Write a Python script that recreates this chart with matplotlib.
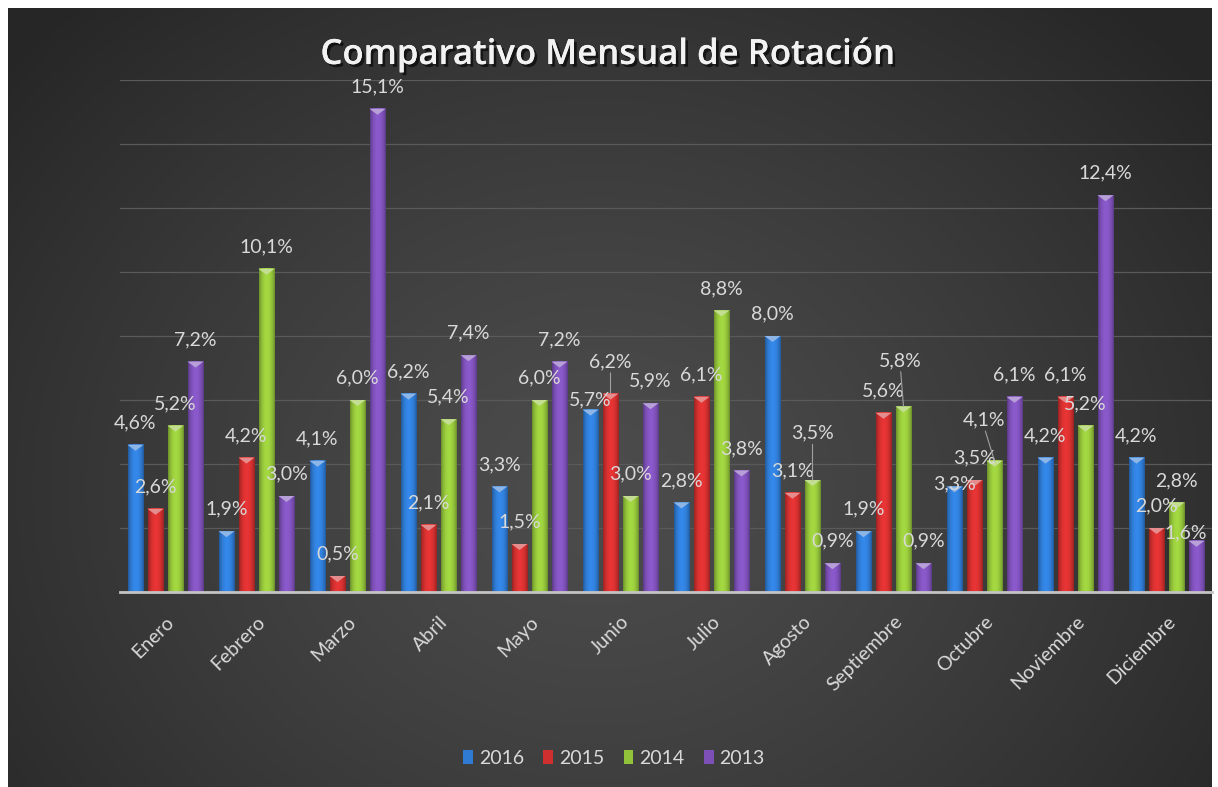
import numpy as np
import matplotlib
matplotlib.use('Agg')
import matplotlib.pyplot as plt
from matplotlib.patches import Patch, Polygon
import matplotlib.patheffects as pe
from matplotlib.transforms import ScaledTranslation
from matplotlib.colors import to_rgb

# ---------------- data ----------------
meses = ["Enero", "Febrero", "Marzo", "Abril", "Mayo", "Junio", "Julio",
         "Agosto", "Septiembre", "Octubre", "Noviembre", "Diciembre"]
series_names = ["2016", "2015", "2014", "2013"]
v2016 = [4.6, 1.9, 4.1, 6.2, 3.3, 5.7, 2.8, 8.0, 1.9, 3.3, 4.2, 4.2]
v2015 = [2.6, 4.2, 0.5, 2.1, 1.5, 6.2, 6.1, 3.1, 5.6, 3.5, 6.1, 2.0]
v2014 = [5.2, 10.1, 6.0, 5.4, 6.0, 3.0, 8.8, 3.5, 5.8, 4.1, 5.2, 2.8]
v2013 = [7.2, 3.0, 15.1, 7.4, 7.2, 5.9, 3.8, 0.9, 0.9, 6.1, 12.4, 1.6]
titulo = "Comparativo Mensual de Rotación"

series = [v2016, v2015, v2014, v2013]
colores = ["#2f7ad2", "#d02f2f", "#92c23a", "#7c50b6"]

plt.rcParams['font.family'] = ['Lato', 'DejaVu Sans']

W, H, DPI = 1218, 787, 100
fig = plt.figure(figsize=(W / DPI, H / DPI), dpi=DPI, facecolor='white')

# ---------------- background (radial gradient) ----------------
bw_px, bh_px = 1204, 779
bg = fig.add_axes([8 / W, 0, bw_px / W, bh_px / H])
yy, xx = np.mgrid[0:bh_px, 0:bw_px]
r = np.sqrt(((xx - 590) / 1.0) ** 2 + ((yy - 480) / 0.85) ** 2) / 780
val = (76 - 38 * np.clip(r, 0, 1) ** 1.3) / 255.0
bgimg = np.dstack([val, val, val])
bg.imshow(bgimg, aspect='auto', interpolation='bilinear')
bg.set_axis_off()

# ---------------- main axes ----------------
ymax = 16
ax = fig.add_axes([120 / W, (H - 592) / H, 1092 / W, 512 / H])
ax.set_facecolor('none')
for s in ax.spines.values():
    s.set_visible(False)
ppu = 512 / ymax  # pixels per unit

pitch = 20 / 91
bwid = 16 / 91

prof_t = np.linspace(0, 1, 40)
prof = 0.72 + 0.40 * np.sin(np.pi * prof_t) ** 0.7


def shade(c):
    base = np.array(to_rgb(c))
    arr = np.clip(base[None, :] * prof[:, None], 0, 1)
    return arr[None, :, :]


def lighter(c, f=0.45):
    base = np.array(to_rgb(c))
    return tuple(base + (1 - base) * f)


def fmt(v):
    return f"{v:.1f}".replace('.', ',') + '%'


# label offsets in pixels (dx, dy, leader line)
default_off = (0, 22, False)
overrides = {(5, 0): (0, 10, False), (5, 1): (0, 32, True), (7, 2): (0, 47, True),
             (8, 2): (-3, 46, True), (9, 0): (0, 3, False), (9, 2): (-10, 41, True),
             (11, 3): (-11, 8, False)}

for j, vals in enumerate(series):
    img = shade(colores[j])
    capc = lighter(colores[j])
    for i, v in enumerate(vals):
        xc = i + 0.5 + (j - 1.5) * pitch
        x0, x1 = xc - bwid / 2, xc + bwid / 2
        ax.imshow(img, extent=(x0, x1, 0, v), aspect='auto',
                  interpolation='bilinear', zorder=3)
        ax.add_patch(Polygon([(x0, v), (x1, v), (xc, v - 6 / ppu)], closed=True,
                             fc=capc, ec='none', zorder=4))
        dx, dy, lead = overrides.get((i, j), default_off)
        kw = {}
        if lead:
            kw['arrowprops'] = dict(arrowstyle='-', color='#a0a0a0', lw=0.8,
                                    shrinkA=0, shrinkB=0, relpos=(0.5, 0.0))
        ax.annotate(fmt(v), xy=(xc, v), xytext=(dx, dy), textcoords='offset pixels',
                    ha='center', va='center', fontsize=14, color='#d9d9d9',
                    zorder=6, annotation_clip=False, **kw)

ax.set_xlim(0, 12)
ax.set_ylim(0, ymax)
ax.set_yticks(np.arange(0, ymax + 1, 2))
ax.tick_params(axis='y', length=0, labelleft=False)
ax.grid(axis='y', color='#5a5a5a', lw=0.9)
ax.set_axisbelow(True)
ax.axhline(0, color='#c4c4c4', lw=2, zorder=5, clip_on=False)

ax.set_xticks(np.arange(12) + 0.5)
ax.set_xticklabels(meses)
ax.tick_params(axis='x', length=0, pad=0, labelsize=14, labelcolor='#d9d9d9')
off = ScaledTranslation(6 / DPI, -27 / DPI, fig.dpi_scale_trans)
for lab in ax.get_xticklabels():
    lab.set_rotation(45)
    lab.set_ha('right')
    lab.set_va('center')
    lab.set_rotation_mode('anchor')
    lab.set_transform(lab.get_transform() + off)

# ---------------- legend ----------------
handles = [Patch(facecolor=c, edgecolor='none') for c in colores]
fig.legend(handles, series_names, loc='center', bbox_to_anchor=(614 / W, 1 - 758 / H),
           ncol=4, frameon=False, fontsize=14, labelcolor='#d9d9d9',
           handlelength=0.5, handleheight=0.7, handletextpad=0.3, columnspacing=1.0)

# ---------------- title ----------------
fig.text(608 / W, 1 - 55 / H, titulo, ha='center', va='center', fontsize=25,
         fontweight='semibold', color='#f2f2f2', family=['Open Sans', 'DejaVu Sans'],
         path_effects=[pe.withSimplePatchShadow(offset=(2, -2), shadow_rgbFace='black', alpha=0.6),
                       pe.Normal()])

fig.savefig('out.png', dpi=DPI, facecolor='white')
